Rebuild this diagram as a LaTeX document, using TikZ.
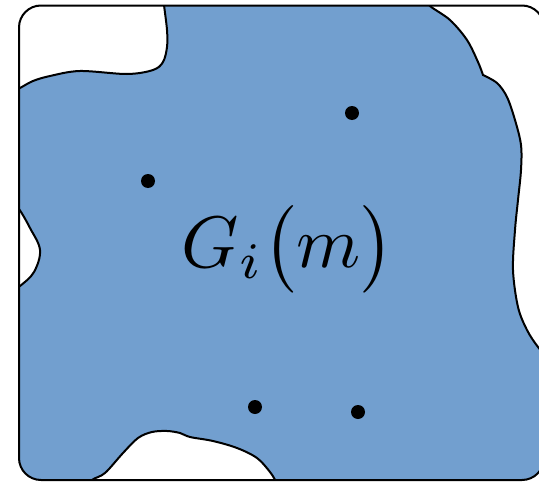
\documentclass[tikz,border=0pt]{standalone}
\usepackage{tikz}
\usetikzlibrary{positioning}
\definecolor{regionblue}{RGB}{114,159,207}

\begin{document}
\begin{tikzpicture}[x=1pt, y=-1pt,
    hole/.style={fill=white, draw=black, line width=2pt},
    dot/.style={circle, fill=black, inner sep=0pt, minimum size=14pt},
    frame/.style={draw=black, line width=2pt, rounded corners=22pt},
  ]
  \useasboundingbox (0,0) rectangle (539,482);
  \begin{scope}
    \clip[rounded corners=22pt] (19,5.5) rectangle (544,480);
    \fill[regionblue] (0,0) rectangle (560,490);
    % top left pocket
    \draw[hole] plot[smooth, tension=0.55] coordinates {(163,-5) (164,5) (167,30) (167,47) (163,62) (153,70) (127,74) (80,71) (50,76) (33,81) (20,88) (5,96)}
      -- (-5,96) -- (-5,-5) -- cycle;
    % left pocket
    \draw[hole] plot[smooth, tension=0.6] coordinates {(10,200) (19,209) (30,228) (40,250) (34,272) (20,286) (10,292)}
      -- (-5,292) -- (-5,200) -- cycle;
    % bottom pocket
    \draw[hole] plot[smooth, tension=0.55] coordinates {(85,490) (92,480) (105,473) (123,453) (138,438) (152,432) (167,431) (180,433) (190,437) (213,441) (237,448) (257,458) (270,472) (276,482) (279,492)}
      -- cycle;
    % right pocket
    \draw[hole] plot[smooth, tension=0.55] coordinates {(425,-2) (430,6) (450,20) (467,40) (478,62) (483,75)}
      -- plot[smooth, tension=0.55] coordinates {(483,75) (497,83) (507,97) (515,120) (521,145) (521,170) (518,200) (515,230) (513,270) (518,307) (527,330) (538,347) (550,360)}
      -- (560,360) -- (560,-2) -- cycle;
  \end{scope}
  \draw[frame] (19,5.5) rectangle (544,480);

  \node[scale=7.3] (label) at (288,249) {$G_i\bigl(m\bigr)$};
  \node[dot] (p1) at (352,113) {};
  \node[dot] (p2) at (148,181) {};
  \node[dot] (p3) at (255,407) {};
  \node[dot] (p4) at (358,412) {};
\end{tikzpicture}
\end{document}
